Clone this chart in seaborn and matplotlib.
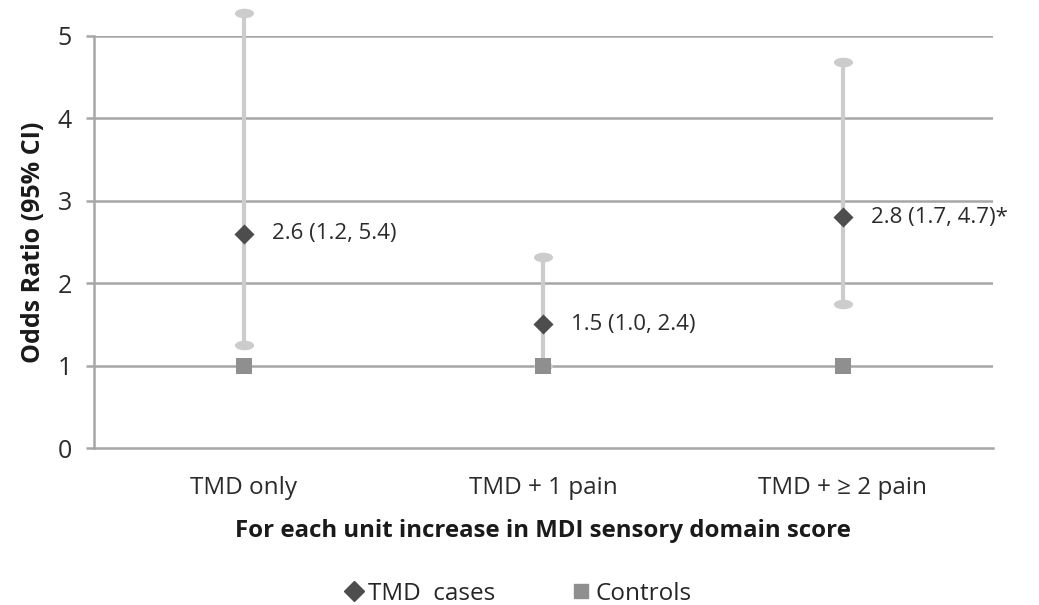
import numpy as np
import pandas as pd
import seaborn as sns
import matplotlib.pyplot as plt
from matplotlib.path import Path
from matplotlib.transforms import Affine2D
from matplotlib.lines import Line2D

# values
categories = ["TMD only", "TMD + 1 pain", "TMD + \u2265 2 pain"]
tmd_or = [2.6, 1.5, 2.8]
tmd_lo = [1.25, 1.0, 1.75]
tmd_hi = [5.28, 2.32, 4.68]
control_or = [1.0, 1.0, 1.0]
labels = ["2.6 (1.2, 5.4)", "1.5 (1.0, 2.4)", "2.8 (1.7, 4.7)*"]

sns.set_style("white")
plt.rcParams["font.family"] = ["Open Sans", "DejaVu Sans"]

df = pd.DataFrame({"group": categories, "tmd": tmd_or, "lo": tmd_lo,
                   "hi": tmd_hi, "ctrl": control_or})

fig = plt.figure(figsize=(10.39, 6.05), dpi=100)
ax = fig.add_axes([0.0905, 0.2595, 0.865, 0.681])

grid_c = "#a6a6a6"
bar_c = "#cccccc"
dia_c = "#4d4d4d"
sq_c = "#8f8f8f"
txt_c = "#2b2b2b"

for yv in range(1, 6):
    ax.axhline(yv, color=grid_c, lw=1.8, zorder=0)

xs = np.arange(len(categories))

# whiskers with rounded (ellipse) caps
ax.vlines(xs, df["lo"], df["hi"], color=bar_c, lw=3, zorder=1, clip_on=False)
ellipse = Path.unit_circle().transformed(Affine2D().scale(1.0, 0.5))
ax.scatter(np.concatenate([xs, xs]), np.concatenate([df["lo"], df["hi"]]),
           marker=ellipse, s=190, color=bar_c, linewidths=0, zorder=1,
           clip_on=False)

sns.scatterplot(data=df, x="group", y="ctrl", marker="s", s=130,
                color=sq_c, linewidth=0, ax=ax, zorder=3, clip_on=False)
sns.scatterplot(data=df, x="group", y="tmd", marker="D", s=105,
                color=dia_c, linewidth=0, ax=ax, zorder=4)

for x, y, t in zip(xs, df["tmd"], labels):
    ax.annotate(t, (x, y), xytext=(20, 0), textcoords="offset points",
                fontsize=16, color=txt_c, va="center", ha="left")

ax.set_xlim(-0.5, 2.5)
ax.set_ylim(0, 5)
ax.set_yticks(range(6))
ax.tick_params(axis="y", labelsize=18, colors=grid_c, labelcolor=txt_c,
               length=6, width=1.8, direction="out", left=True, pad=10)
ax.tick_params(axis="x", labelsize=17.5, labelcolor=txt_c, length=0, pad=20)

for side in ["top", "right"]:
    ax.spines[side].set_visible(False)
for side in ["left", "bottom"]:
    ax.spines[side].set_color(grid_c)
    ax.spines[side].set_linewidth(1.8)

ax.set_xlabel("For each unit increase in MDI sensory domain score",
              fontsize=17.3, fontweight="bold", color="#1a1a1a", labelpad=14)
ax.set_ylabel("Odds Ratio (95% CI)", fontsize=18, fontweight="bold",
              color="#1a1a1a", labelpad=8)

handles = [
    Line2D([], [], marker="D", color=dia_c, ls="none", markersize=10),
    Line2D([], [], marker="s", color=sq_c, ls="none", markersize=10),
]
fig.legend(handles, ["TMD  cases", "Controls"], loc="lower center",
           bbox_to_anchor=(0.497, -0.037), ncol=2, frameon=False,
           fontsize=17.5, handletextpad=0.1, columnspacing=3.0,
           handlelength=1.0)

fig.savefig("out.png", dpi=100)
